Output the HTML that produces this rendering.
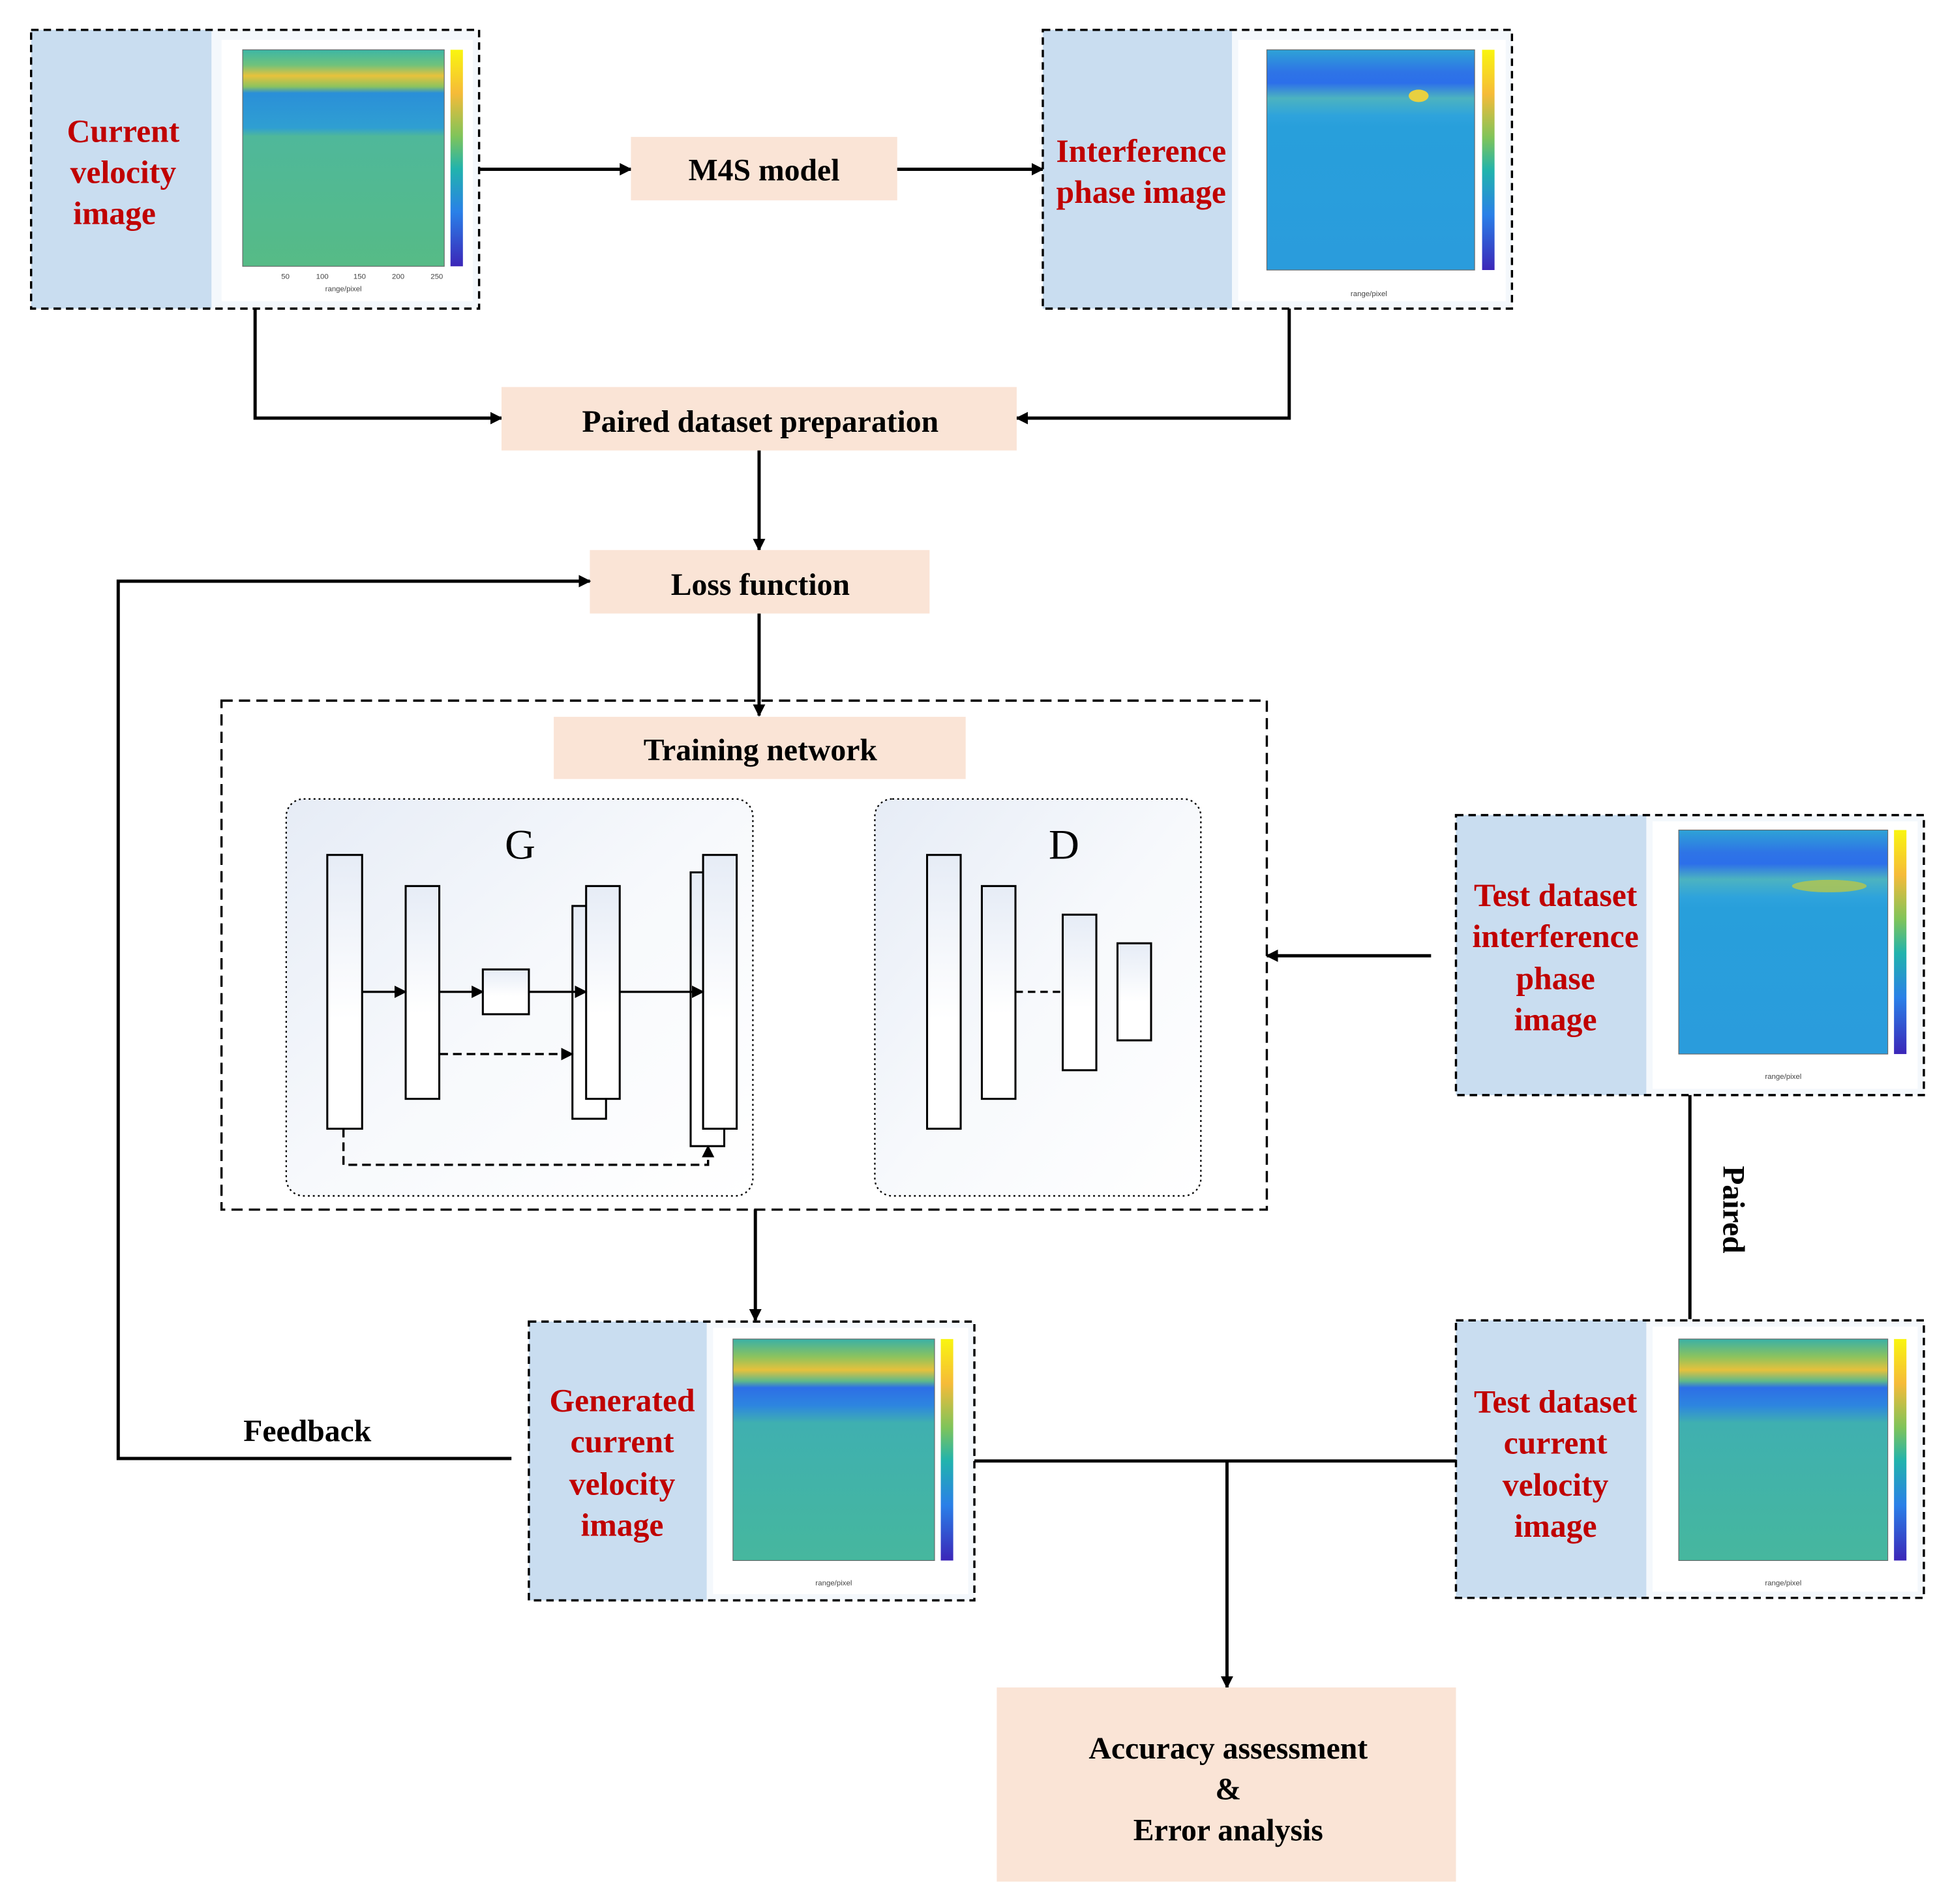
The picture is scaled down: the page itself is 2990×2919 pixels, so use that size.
<!DOCTYPE html>
<html><head><meta charset="utf-8"><style>
html,body{margin:0;padding:0;background:#fff;}
svg{display:block;}
text{font-family:"Liberation Serif",serif;}
.r{fill:#c00000;font-weight:bold;font-size:26px;text-anchor:middle;}
.b{fill:#000;font-weight:bold;font-size:25px;text-anchor:middle;}
.ln{stroke:#000;stroke-width:2.6;fill:none;}
.dl{stroke:#000;stroke-width:1.8;fill:none;stroke-dasharray:6,4;}
.blk{fill:url(#blk);stroke:#000;stroke-width:1.6;}
.ax{font-family:"Liberation Sans",sans-serif;font-size:6px;fill:#444;}
</style></head><body>
<svg width="2990" height="2919" viewBox="0 0 1567 1530" preserveAspectRatio="none" xmlns="http://www.w3.org/2000/svg">
<defs>
<marker id="ah" markerWidth="10" markerHeight="10" refX="9" refY="5" orient="auto" markerUnits="userSpaceOnUse" viewBox="0 0 10 10"><path d="M0,0 L10,5 L0,10 z" fill="#000"/></marker>
<linearGradient id="pan" x1="0" y1="0" x2="1" y2="1"><stop offset="0" stop-color="#e6ecf6"/><stop offset="0.5" stop-color="#f7f9fc"/><stop offset="1" stop-color="#fff"/></linearGradient>
<linearGradient id="blk" x1="0" y1="0" x2="0" y2="1"><stop offset="0" stop-color="#e6ecf6"/><stop offset="0.6" stop-color="#fff"/></linearGradient>
<linearGradient id="cb" x1="0" y1="0" x2="0" y2="1"><stop offset="0" stop-color="#f9f50f"/><stop offset="0.2" stop-color="#f6bb38"/><stop offset="0.4" stop-color="#7fc45a"/><stop offset="0.55" stop-color="#21b3ad"/><stop offset="0.75" stop-color="#2a80e8"/><stop offset="1" stop-color="#3b26b8"/></linearGradient>
<linearGradient id="cv" x1="0" y1="0" x2="0" y2="1"><stop offset="0" stop-color="#3cb6a6"/><stop offset="0.07" stop-color="#6fc27c"/><stop offset="0.12" stop-color="#e8c23c"/><stop offset="0.17" stop-color="#8cc35e"/><stop offset="0.2" stop-color="#2a8fd8"/><stop offset="0.36" stop-color="#2f9fd2"/><stop offset="0.4" stop-color="#4fb89a"/><stop offset="1" stop-color="#56bb86"/></linearGradient>
<linearGradient id="ip" x1="0" y1="0" x2="0" y2="1"><stop offset="0" stop-color="#2ea3d6"/><stop offset="0.1" stop-color="#2e74e6"/><stop offset="0.15" stop-color="#2c6fea"/><stop offset="0.22" stop-color="#4cb3c0"/><stop offset="0.3" stop-color="#2ea3dc"/><stop offset="0.35" stop-color="#289fdb"/><stop offset="1" stop-color="#2a9cdc"/></linearGradient>
<linearGradient id="gv" x1="0" y1="0" x2="0" y2="1"><stop offset="0" stop-color="#3ab0a6"/><stop offset="0.08" stop-color="#8cc35e"/><stop offset="0.14" stop-color="#e6c13c"/><stop offset="0.19" stop-color="#5fb98a"/><stop offset="0.22" stop-color="#2d6fe6"/><stop offset="0.3" stop-color="#2d85e0"/><stop offset="0.38" stop-color="#3fb0b0"/><stop offset="1" stop-color="#46b79e"/></linearGradient>
</defs>

<rect x="25" y="24" width="145" height="224" fill="#c9ddf0"/>
<rect x="170" y="24" width="215" height="224" fill="#f4f8fc"/>
<rect x="178" y="32" width="202" height="210" fill="#fff"/>
<rect x="195" y="40" width="162" height="174" fill="url(#cv)" stroke="#666" stroke-width="0.6"/>
<rect x="362" y="40" width="10" height="174" fill="url(#cb)"/>
<text class="ax" x="276" y="234" text-anchor="middle">range/pixel</text>
<text class="ax" x="226" y="224">50</text><text class="ax" x="254" y="224">100</text><text class="ax" x="284" y="224">150</text><text class="ax" x="315" y="224">200</text><text class="ax" x="346" y="224">250</text>
<rect x="25" y="24" width="360" height="224" class="dl"/>
<text class="r" x="99" y="114">Current</text><text class="r" x="99" y="147">velocity</text><text class="r" x="92" y="180">image</text>

<line x1="385" y1="136" x2="507" y2="136" class="ln" marker-end="url(#ah)"/>
<rect x="507" y="110" width="214" height="51" fill="#fae4d6"/>
<text class="b" x="614" y="145">M4S model</text>
<line x1="721" y1="136" x2="838" y2="136" class="ln" marker-end="url(#ah)"/>

<rect x="838" y="24" width="152" height="224" fill="#c9ddf0"/>
<rect x="990" y="24" width="225" height="224" fill="#f4f8fc"/>
<rect x="995" y="32" width="215" height="210" fill="#fff"/>
<rect x="1018" y="40" width="167" height="177" fill="url(#ip)" stroke="#666" stroke-width="0.6"/>
<ellipse cx="1140" cy="77" rx="8" ry="5" fill="#e8d040"/>
<rect x="1191" y="40" width="10" height="177" fill="url(#cb)"/>
<text class="ax" x="1100" y="238" text-anchor="middle">range/pixel</text>
<rect x="838" y="24" width="377" height="224" class="dl"/>
<text class="r" x="917" y="130">Interference</text><text class="r" x="917" y="163">phase image</text>

<polyline points="205,248 205,336 403,336" class="ln" marker-end="url(#ah)"/>
<polyline points="1036,248 1036,336 817,336" class="ln" marker-end="url(#ah)"/>
<rect x="403" y="311" width="414" height="51" fill="#fae4d6"/>
<text class="b" x="611" y="347">Paired dataset preparation</text>
<line x1="610" y1="362" x2="610" y2="442" class="ln" marker-end="url(#ah)"/>
<rect x="474" y="442" width="273" height="51" fill="#fae4d6"/>
<text class="b" x="611" y="478">Loss function</text>
<polyline points="411,1172 95,1172 95,467 474,467" class="ln" marker-end="url(#ah)"/>
<line x1="610" y1="493" x2="610" y2="575" class="ln" marker-end="url(#ah)"/>

<rect x="178" y="563" width="840" height="409" fill="none" stroke="#000" stroke-width="1.8" stroke-dasharray="9,5"/>
<rect x="445" y="576" width="331" height="50" fill="#fae4d6"/>
<text class="b" x="611" y="611">Training network</text>

<rect x="230" y="642" width="375" height="319" rx="14" fill="url(#pan)" stroke="#000" stroke-width="1.2" stroke-dasharray="1.5,2.5"/>
<text x="418" y="690" font-size="34" text-anchor="middle" fill="#000">G</text>
<rect x="263" y="687" width="28" height="220" class="blk"/>
<rect x="326" y="712" width="27" height="171" class="blk"/>
<rect x="388" y="779" width="37" height="36" class="blk"/>
<rect x="460" y="728" width="27" height="171" class="blk"/>
<rect x="471" y="712" width="27" height="171" class="blk"/>
<rect x="555" y="701" width="27" height="220" class="blk"/>
<rect x="565" y="687" width="27" height="220" class="blk"/>
<g stroke="#000" stroke-width="1.8" fill="none">
<line x1="291" y1="797" x2="326" y2="797" marker-end="url(#ah)"/>
<line x1="353" y1="797" x2="388" y2="797" marker-end="url(#ah)"/>
<line x1="425" y1="797" x2="471" y2="797" marker-end="url(#ah)"/>
<line x1="498" y1="797" x2="565" y2="797" marker-end="url(#ah)"/>
<line x1="353" y1="847" x2="460" y2="847" stroke-dasharray="7,4" marker-end="url(#ah)"/>
<polyline points="276,907 276,936 569,936 569,921" stroke-dasharray="7,4" marker-end="url(#ah)"/>
</g>

<rect x="703" y="642" width="262" height="319" rx="14" fill="url(#pan)" stroke="#000" stroke-width="1.2" stroke-dasharray="1.5,2.5"/>
<text x="855" y="690" font-size="34" text-anchor="middle" fill="#000">D</text>
<rect x="745" y="687" width="27" height="220" class="blk"/>
<rect x="789" y="712" width="27" height="171" class="blk"/>
<rect x="854" y="735" width="27" height="125" class="blk"/>
<rect x="898" y="758" width="27" height="78" class="blk"/>
<line x1="816" y1="797" x2="854" y2="797" stroke="#000" stroke-width="1.8" stroke-dasharray="6,4"/>

<line x1="1150" y1="768" x2="1018" y2="768" class="ln" marker-end="url(#ah)"/>

<rect x="1170" y="655" width="153" height="225" fill="#c9ddf0"/>
<rect x="1323" y="655" width="223" height="225" fill="#f4f8fc"/>
<rect x="1328" y="660" width="213" height="215" fill="#fff"/>
<rect x="1349" y="667" width="168" height="180" fill="url(#ip)" stroke="#666" stroke-width="0.6"/>
<ellipse cx="1470" cy="712" rx="30" ry="5" fill="#b7c74a" opacity="0.8"/>
<rect x="1522" y="667" width="10" height="180" fill="url(#cb)"/>
<text class="ax" x="1433" y="867" text-anchor="middle">range/pixel</text>
<rect x="1170" y="655" width="376" height="225" class="dl"/>
<text class="r" x="1250" y="728">Test dataset</text><text class="r" x="1250" y="761">interference</text><text class="r" x="1250" y="795">phase</text><text class="r" x="1250" y="828">image</text>

<line x1="1358" y1="880" x2="1358" y2="1060" class="ln"/>
<text class="b" x="1385" y="972" transform="rotate(90 1385 972)">Paired</text>

<rect x="1170" y="1061" width="153" height="223" fill="#c9ddf0"/>
<rect x="1323" y="1061" width="223" height="223" fill="#f4f8fc"/>
<rect x="1328" y="1066" width="213" height="213" fill="#fff"/>
<rect x="1349" y="1076" width="168" height="178" fill="url(#gv)" stroke="#666" stroke-width="0.6"/>
<rect x="1522" y="1076" width="10" height="178" fill="url(#cb)"/>
<text class="ax" x="1433" y="1274" text-anchor="middle">range/pixel</text>
<rect x="1170" y="1061" width="376" height="223" class="dl"/>
<text class="r" x="1250" y="1135">Test dataset</text><text class="r" x="1250" y="1168">current</text><text class="r" x="1250" y="1202">velocity</text><text class="r" x="1250" y="1235">image</text>

<line x1="607" y1="972" x2="607" y2="1061" class="ln" marker-end="url(#ah)"/>

<rect x="425" y="1062" width="143" height="224" fill="#c9ddf0"/>
<rect x="568" y="1062" width="215" height="224" fill="#f4f8fc"/>
<rect x="573" y="1067" width="205" height="214" fill="#fff"/>
<rect x="589" y="1076" width="162" height="178" fill="url(#gv)" stroke="#666" stroke-width="0.6"/>
<rect x="756" y="1076" width="10" height="178" fill="url(#cb)"/>
<text class="ax" x="670" y="1274" text-anchor="middle">range/pixel</text>
<rect x="425" y="1062" width="358" height="224" class="dl"/>
<text class="r" x="500" y="1134">Generated</text><text class="r" x="500" y="1167">current</text><text class="r" x="500" y="1201">velocity</text><text class="r" x="500" y="1234">image</text>

<text class="b" x="247" y="1158">Feedback</text>

<line x1="783" y1="1174" x2="1170" y2="1174" class="ln"/>
<line x1="986" y1="1174" x2="986" y2="1356" class="ln" marker-end="url(#ah)"/>
<rect x="801" y="1356" width="369" height="156" fill="#fae4d6"/>
<text class="b" x="987" y="1413">Accuracy assessment</text>
<text class="b" x="987" y="1446">&amp;</text>
<text class="b" x="987" y="1479">Error analysis</text>
</svg>
</body></html>
